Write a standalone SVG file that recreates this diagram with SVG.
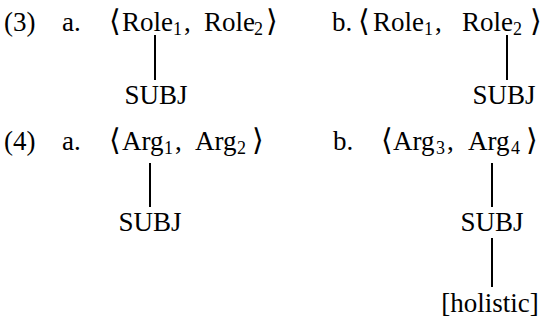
<svg xmlns="http://www.w3.org/2000/svg" width="555" height="320" viewBox="0 0 555 320">
<style>
text{font-family:"Liberation Serif","DejaVu Serif",serif;font-size:27px;fill:#000}
.sub{font-size:18px}
.br{font-size:30px}
.m{text-anchor:middle}
line{stroke:#000;stroke-width:2}
</style>
<rect width="555" height="320" fill="#fff"/>
<g id="ex3">
<text x="4" y="31">(3)</text>
<text x="62" y="31">a.</text>
<text x="332" y="31">b.</text>
</g>
<g id="n3a-top"><text y="31"><tspan class="br" x="109">⟨</tspan><tspan x="122">Role</tspan><tspan class="sub" x="173" dy="4">1</tspan><tspan x="184" dy="-4">,</tspan><tspan x="204">Role</tspan><tspan class="sub" x="254" dy="4">2</tspan><tspan class="br" x="266" dy="-4">⟩</tspan></text></g>
<g id="n3a-subj"><text class="m" x="156" y="104">SUBJ</text></g>
<g id="n3b-top"><text y="31"><tspan class="br" x="358">⟨</tspan><tspan x="373">Role</tspan><tspan class="sub" x="424" dy="4">1</tspan><tspan x="435" dy="-4">,</tspan><tspan x="462">Role</tspan><tspan class="sub" x="513" dy="4">2</tspan><tspan class="br" x="530" dy="-4">⟩</tspan></text></g>
<g id="n3b-subj"><text class="m" x="504" y="104">SUBJ</text></g>
<g id="ex4">
<text x="4" y="150">(4)</text>
<text x="62" y="150">a.</text>
<text x="333" y="150">b.</text>
</g>
<g id="n4a-top"><text y="150"><tspan class="br" x="109">⟨</tspan><tspan x="122">Arg</tspan><tspan class="sub" x="164" dy="4">1</tspan><tspan x="175" dy="-4">,</tspan><tspan x="195">Arg</tspan><tspan class="sub" x="237" dy="4">2</tspan><tspan class="br" x="252" dy="-4">⟩</tspan></text></g>
<g id="n4a-subj"><text class="m" x="150" y="231">SUBJ</text></g>
<g id="n4b-top"><text y="150"><tspan class="br" x="381">⟨</tspan><tspan x="393">Arg</tspan><tspan class="sub" x="436" dy="4">3</tspan><tspan x="447" dy="-4">,</tspan><tspan x="468">Arg</tspan><tspan class="sub" x="511" dy="4">4</tspan><tspan class="br" x="526" dy="-4">⟩</tspan></text></g>
<g id="n4b-subj"><text class="m" x="492" y="231">SUBJ</text></g>
<g id="n4b-hol"><text class="m" x="490" y="312">[holistic]</text></g>
<g id="connectors">
<line x1="155" y1="35" x2="155" y2="80"/>
<line x1="507" y1="35" x2="507" y2="80"/>
<line x1="150" y1="163" x2="150" y2="207"/>
<line x1="492" y1="163" x2="492" y2="207"/>
<line x1="492" y1="238" x2="492" y2="287"/>
</g>
</svg>
